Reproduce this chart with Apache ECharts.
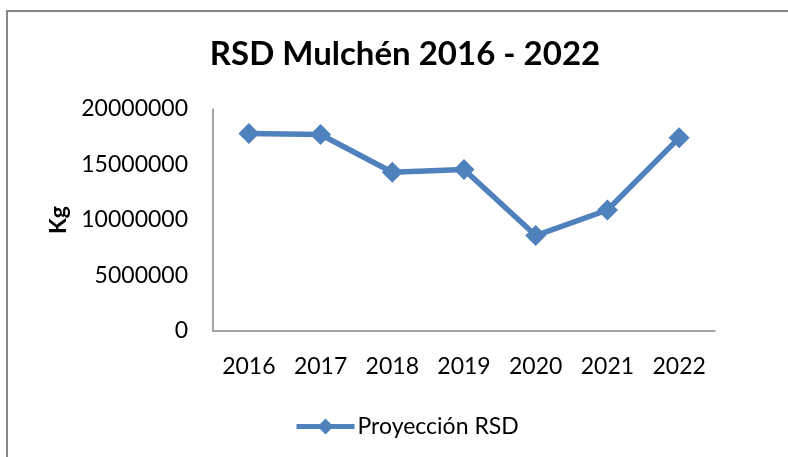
<!DOCTYPE html>
<html>
<head>
<meta charset="utf-8">
<script src="https://cdn.jsdelivr.net/npm/echarts@6/dist/echarts.min.js"></script>
<style>
  html, body { margin: 0; padding: 0; background: #fff; }
  #main { width: 788px; height: 457px; }
</style>
</head>
<body>
<div id="main"></div>
<script>
// data
var years = ['2016', '2017', '2018', '2019', '2020', '2021', '2022'];
var proyeccionRSD = [17800000, 17700000, 14300000, 14550000, 8600000, 10900000, 17400000];
var yTicks = [0, 5000000, 10000000, 15000000, 20000000];

var font = 'Lato, "Open Sans", sans-serif';
var blue = '#4F81BD';
var gray = '#868686';

var myChart = echarts.init(document.getElementById('main'));
var option = {
    backgroundColor: '#fff',
    animation: false,
    title: {
        text: 'RSD Mulchén 2016 - 2022',
        left: 400,
        top: 33,
        textAlign: 'center',
        textStyle: {fontFamily: font, fontSize: 33, fontWeight: 'bold', color: '#000'}
    },
    legend: {
        data: ['Proyección RSD'],
        left: 289,
        top: 410,
        itemWidth: 58,
        itemHeight: 20,
        itemGap: 4,
        lineStyle: {width: 5},
        textStyle: {fontFamily: font, fontSize: 23, color: '#000', padding: [0, 0, 0, -2]}
    },
    graphic: [{
        type: 'rect',
        shape: {x: 7, y: 11, width: 900, height: 600},
        style: {fill: 'none', stroke: gray, lineWidth: 2},
        silent: true
    }],
    grid: {left: 213, right: 73, top: 109, bottom: 126},
    xAxis: {
        type: 'category',
        data: years,
        boundaryGap: true,
        axisLine: {lineStyle: {color: gray, width: 1.5}},
        axisTick: {show: false},
        axisLabel: {fontFamily: font, fontSize: 23, color: '#000', margin: 24}
    },
    yAxis: {
        type: 'value',
        min: yTicks[0],
        max: yTicks[yTicks.length - 1],
        interval: yTicks[1] - yTicks[0],
        name: 'Kg',
        nameLocation: 'middle',
        nameGap: 141,
        nameRotate: 90,
        nameTextStyle: {fontFamily: font, fontSize: 23, fontWeight: 'bold', color: '#000'},
        axisLine: {show: true, lineStyle: {color: gray, width: 1.5}},
        axisTick: {show: false},
        splitLine: {show: false},
        axisLabel: {
            fontFamily: font, fontSize: 23, color: '#000', margin: 25,
            formatter: function (v) { return String(v); }
        }
    },
    series: [{
        name: 'Proyección RSD',
        type: 'line',
        data: proyeccionRSD,
        symbol: 'diamond',
        symbolSize: 21,
        itemStyle: {color: blue},
        lineStyle: {color: blue, width: 5.5}
    }]
};
myChart.setOption(option);
</script>
</body>
</html>
